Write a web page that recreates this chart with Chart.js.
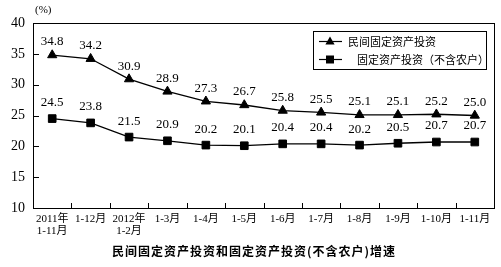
<!DOCTYPE html>
<html>
<head>
<meta charset="utf-8">
<script src="https://cdn.jsdelivr.net/npm/chart.js@4/dist/chart.umd.min.js"></script>
<style>
html,body{margin:0;padding:0;background:#fff;}
#wrap{width:501px;height:267px;position:relative;}
</style>
</head>
<body>
<div id="wrap"><canvas id="c" width="501" height="267"></canvas></div>
<script>
const categories = [['2011年','1-11月'],'1-12月',['2012年','1-2月'],'1-3月','1-4月','1-5月','1-6月','1-7月','1-8月','1-9月','1-10月','1-11月'];
const privateInvest = [34.8,34.2,30.9,28.9,27.3,26.7,25.8,25.5,25.1,25.1,25.2,25.0];
const totalInvest = [24.5,23.8,21.5,20.9,20.2,20.1,20.4,20.4,20.2,20.5,20.7,20.7];
const seriesNames = ['民间固定资产投资','固定资产投资（不含农户）'];
const yTicks = [10,15,20,25,30,35,40];
const chartTitle = '民间固定资产投资和固定资产投资(不含农户)增速';
const unitLabel = '(%)';

const serif = '"Liberation Serif","Noto Sans CJK SC",serif';
const cjk = '"Noto Sans CJK SC","Liberation Serif",sans-serif';

const decor = {
  id:'decor',
  afterDatasetsDraw(chart){
    const ctx = chart.ctx, a = chart.chartArea;
    const xs = chart.scales.x, ys = chart.scales.y;
    ctx.save();
    ctx.strokeStyle = '#000'; ctx.lineWidth = 1;
    // frame
    ctx.strokeRect(Math.round(a.left)+0.5, Math.round(a.top)+0.5, Math.round(a.right-a.left), Math.round(a.bottom-a.top));
    // y tick marks (inside)
    ctx.beginPath();
    yTicks.forEach(v=>{
      if(v===yTicks[0]||v===yTicks[yTicks.length-1]) return;
      const y = Math.round(ys.getPixelForValue(v))+0.5;
      ctx.moveTo(a.left, y); ctx.lineTo(a.left+6, y);
    });
    // x tick marks at category boundaries (inside)
    for(let i=0;i<categories.length-1;i++){
      const x = Math.round((xs.getPixelForValue(i)+xs.getPixelForValue(i+1))/2)+0.5;
      ctx.moveTo(x, a.bottom); ctx.lineTo(x, a.bottom-5);
    }
    ctx.stroke();
    // data labels
    ctx.fillStyle = '#000';
    ctx.font = '13px '+serif;
    ctx.textAlign = 'center'; ctx.textBaseline = 'middle';
    chart.data.datasets.forEach((ds,di)=>{
      const meta = chart.getDatasetMeta(di);
      meta.data.forEach((pt,i)=>{
        const off = di===0 ? 13 : 16;
        ctx.fillText(ds.data[i].toFixed(1), pt.x, pt.y-off);
      });
    });
    // unit
    ctx.font = '11px '+serif;
    ctx.textAlign = 'left';
    ctx.fillText(unitLabel, 35, 10);
    // legend
    const lx = 313, ly = 31, lw = 173, lh = 38;
    ctx.strokeRect(lx+0.5, ly+0.5, lw, lh);
    const rows = [{y:41, tx:348},{y:59, tx:357}];
    chart.data.datasets.forEach((ds,di)=>{
      const r = rows[di];
      const cy = r.y+0.5, cx = 330;
      ctx.lineWidth = 1.2;
      ctx.beginPath();
      ctx.moveTo(319, cy); ctx.lineTo(342, cy); ctx.stroke();
      ctx.fillStyle = '#000';
      ctx.beginPath();
      if(ds.pointStyle==='triangle'){
        ctx.moveTo(cx, cy-5); ctx.lineTo(cx+4.6, cy+3); ctx.lineTo(cx-4.6, cy+3); ctx.closePath();
      } else {
        ctx.rect(cx-4, cy-4, 8, 8);
      }
      ctx.fill();
      ctx.font = '11px '+cjk;
      ctx.textAlign = 'left'; ctx.textBaseline = 'middle';
      ctx.fillText(ds.label, r.tx, r.y+1);
    });
    // title
    ctx.font = 'bold 12px '+cjk;
    ctx.textAlign = 'center'; ctx.textBaseline = 'middle';
    try { ctx.letterSpacing = '1px'; } catch(e){}
    ctx.fillText(chartTitle, 254, 251);
    ctx.restore();
  }
};

new Chart(document.getElementById('c'), {
  type:'line',
  data:{
    labels: categories,
    datasets:[
      {label: seriesNames[0], data: privateInvest, borderColor:'#000', backgroundColor:'#000', borderWidth:1.3,
       pointStyle:'triangle', pointRadius:5.3, pointBorderWidth:1, pointBackgroundColor:'#000', pointBorderColor:'#000', tension:0},
      {label: seriesNames[1], data: totalInvest, borderColor:'#000', backgroundColor:'#000', borderWidth:1.3,
       pointStyle:'rect', pointRadius:5.4, pointBorderWidth:1, pointBackgroundColor:'#000', pointBorderColor:'#000', tension:0}
    ]
  },
  options:{
    responsive:false, animation:false,
    layout:{padding:{top:23,right:7,left:0,bottom:0}},
    plugins:{legend:{display:false}, title:{display:false}, tooltip:{enabled:false}},
    scales:{
      x:{
        offset:true,
        grid:{display:false, drawTicks:false},
        border:{display:false},
        ticks:{autoSkip:false, maxRotation:0, minRotation:0, padding:5, color:'#000', font:{family:serif, size:11, lineHeight:1.1}},
        afterFit(s){ s.height = 59; }
      },
      y:{
        min:10, max:40,
        afterBuildTicks(s){ s.ticks = yTicks.map(v=>({value:v})); },
        grid:{display:false, drawTicks:false},
        border:{display:false},
        ticks:{padding:8, color:'#000', font:{family:serif, size:14}},
        afterFit(s){ s.width = 33; }
      }
    }
  },
  plugins:[decor]
});
</script>
</body>
</html>
